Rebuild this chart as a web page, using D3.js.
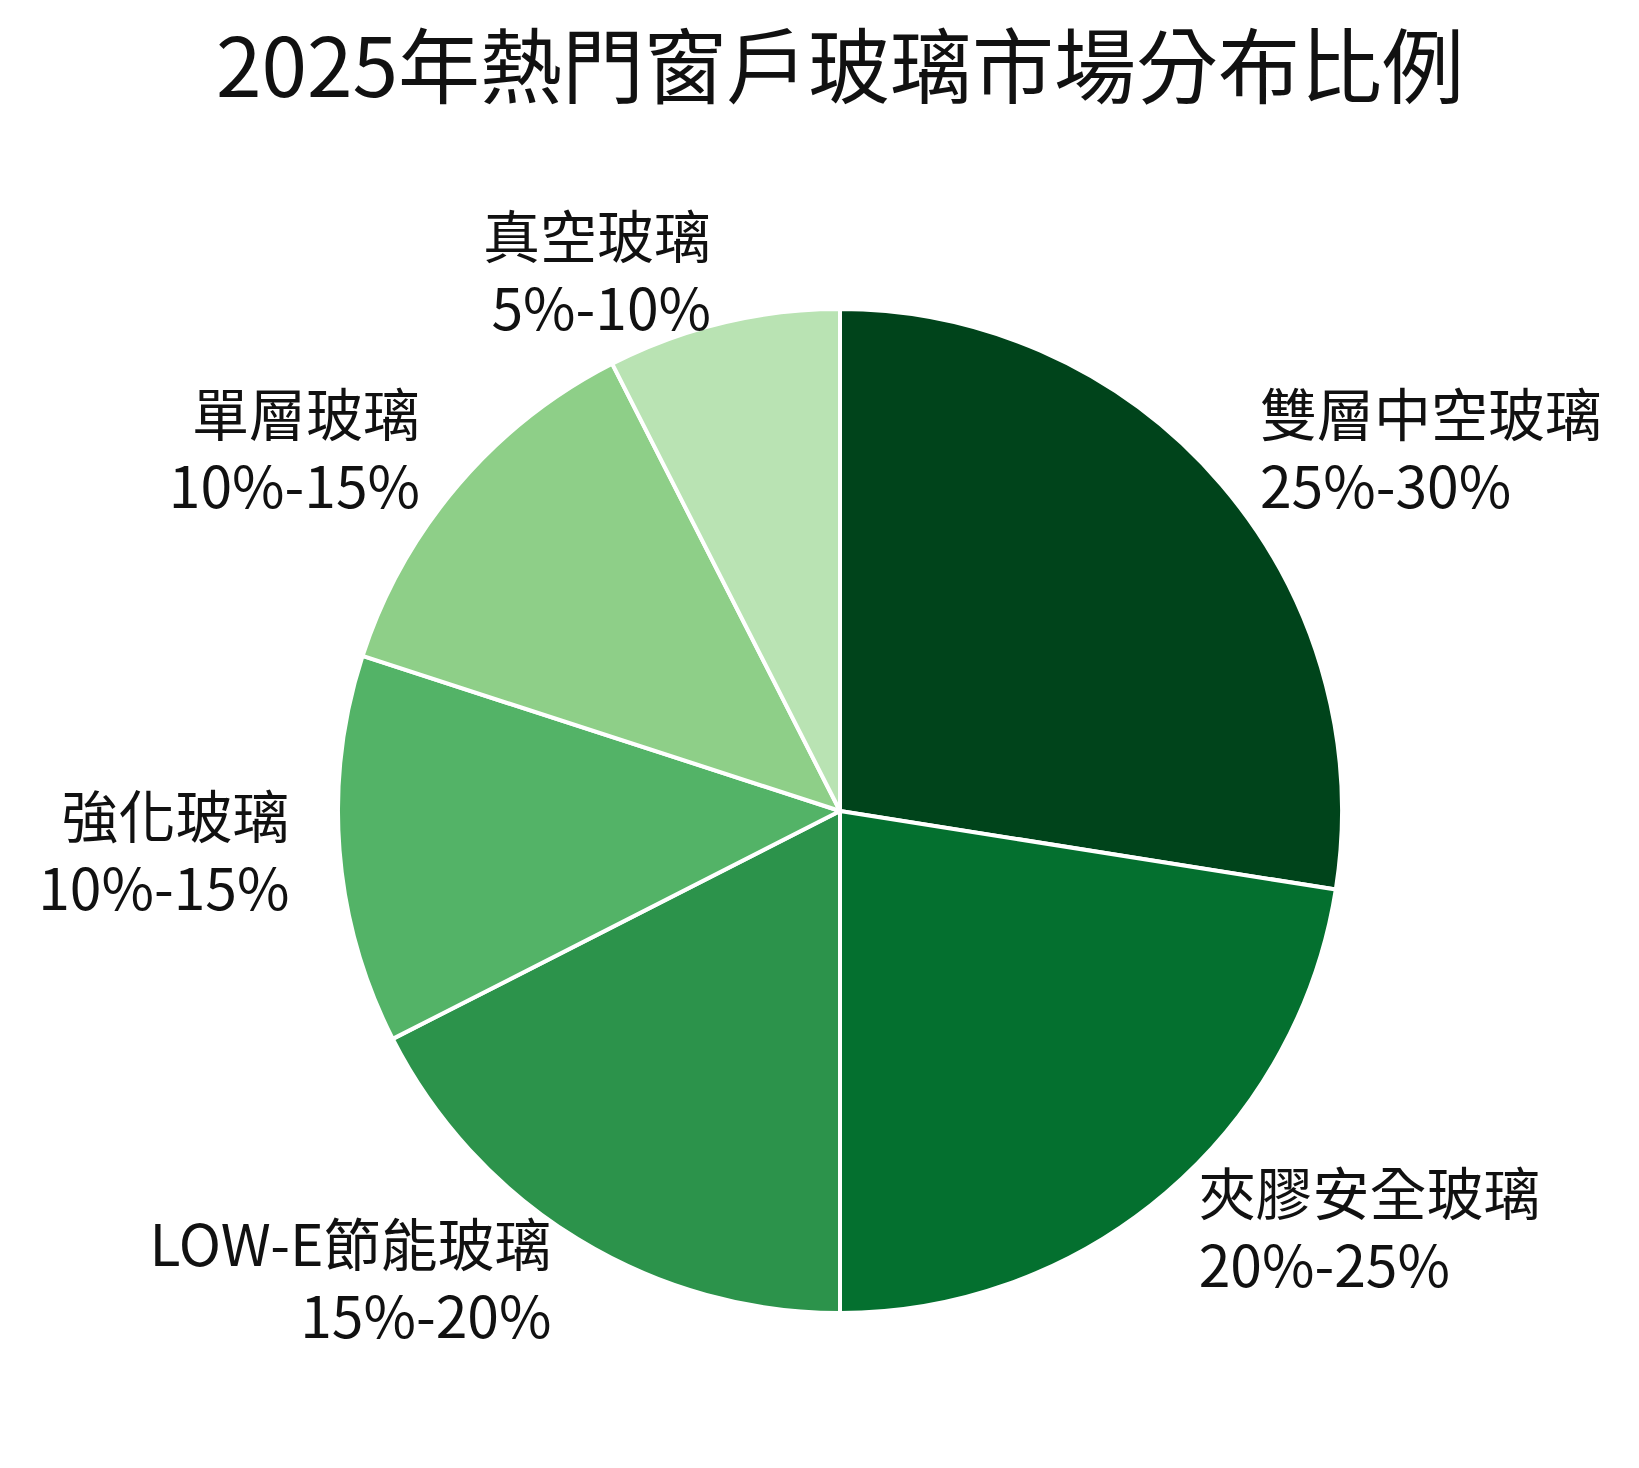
<!DOCTYPE html>
<html><head><meta charset="utf-8">
<script src="https://cdn.jsdelivr.net/npm/d3@7"></script>
<style>body{margin:0;background:#fff}</style></head>
<body><svg id="c" width="1639" height="1468"></svg>
<script>
const categories=["雙層中空玻璃","夾膠安全玻璃","LOW-E節能玻璃","強化玻璃","單層玻璃","真空玻璃"];
const ranges=["25%-30%","20%-25%","15%-20%","10%-15%","10%-15%","5%-10%"];
const values=[27.5,22.5,17.5,12.5,12.5,7.5];
const colors=["#00441b","#04702f","#2c934b","#53b367","#8ecf88","#b9e3b3"];
const svg=d3.select("#c");
const font="'Noto Sans CJK TC','Noto Sans',sans-serif";
svg.append("text").attr("x",840).attr("y",97).attr("text-anchor","middle")
 .attr("font-family",font).attr("font-size",82).attr("fill","#111").text("2025年熱門窗戶玻璃市場分布比例");
const cx=840,cy=811,r=502;
const pie=d3.pie().sort(null).value(d=>d)(values);
const arc=d3.arc().innerRadius(0).outerRadius(r);
const g=svg.append("g").attr("transform",`translate(${cx},${cy})`);
g.selectAll("path").data(pie).join("path").attr("d",arc)
 .attr("fill",(d,i)=>colors[i]).attr("stroke","#fff").attr("stroke-width",4).attr("stroke-linejoin","round");
const R=r*1.1;
pie.forEach((d,i)=>{
 const a=(d.startAngle+d.endAngle)/2;
 const x=R*Math.sin(a),y=-R*Math.cos(a);
 const t=g.append("text").attr("text-anchor",x>=0?"start":"end")
  .attr("font-family",font).attr("font-size",57).attr("fill","#111");
 t.append("tspan").attr("x",x).attr("y",y-36+20).text(categories[i]);
 t.append("tspan").attr("x",x).attr("y",y+36+20).text(ranges[i]);
});
</script></body></html>
